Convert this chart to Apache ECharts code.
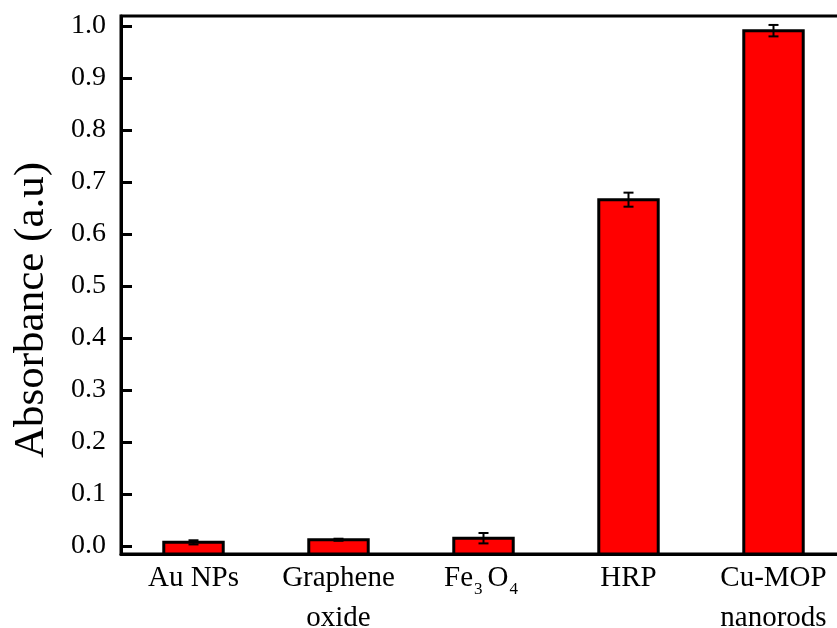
<!DOCTYPE html>
<html>
<head>
<meta charset="utf-8">
<script src="https://cdn.jsdelivr.net/npm/echarts@6/dist/echarts.min.js"></script>
<style>
html,body{margin:0;padding:0;background:#fff;}
#chart{width:837px;height:628px;}
</style>
</head>
<body>
<div id="chart"></div>
<script>
// ---- data ----
const categories = ['Au NPs', 'Graphene oxide', 'Fe3O4', 'HRP', 'Cu-MOP nanorods'];
const absorbance = [0.007, 0.012, 0.015, 0.666, 0.991];
const errorValues = [0.004, 0.002, 0.010, 0.0135, 0.011];
const yTicks = [0.0, 0.1, 0.2, 0.3, 0.4, 0.5, 0.6, 0.7, 0.8, 0.9, 1.0];
const yAxisTitle = 'Absorbance (a.u)';

// ---- layout constants ----
const Y_MIN = -0.0154, Y_MAX = 1.0192;
const FONT = '"Liberation Serif", "Times New Roman", serif';

const catLabels = {
  'Au NPs': '{n|Au NPs}',
  'Graphene oxide': '{n|Graphene}\n{n|oxide}',
  'Fe3O4': '{n|Fe}{s|3}{n|O}{s|4}',
  'HRP': '{n|HRP}',
  'Cu-MOP nanorods': '{n|Cu-MOP}\n{n|nanorods}'
};

const chart = echarts.init(document.getElementById('chart'), null, {renderer: 'canvas'});

function renderBar(params, api) {
  const i = api.value(0), v = api.value(1);
  const base = api.coord([i, Y_MIN]);
  const top = api.coord([i, v]);
  const w = api.size([1, 0])[0] * 0.41;
  return {
    type: 'rect',
    shape: {x: top[0] - w / 2, y: top[1], width: w, height: base[1] - top[1]},
    style: {fill: '#ff0000', stroke: '#000', lineWidth: 3}
  };
}

function renderErr(params, api) {
  const i = api.value(0), v = api.value(1), e = api.value(2);
  const hi = api.coord([i, v + e]);
  const lo = api.coord([i, v - e]);
  const cw = 5;
  const st = {stroke: '#000', lineWidth: 2};
  return {
    type: 'group',
    children: [
      {type: 'line', shape: {x1: hi[0], y1: hi[1], x2: lo[0], y2: lo[1]}, style: st},
      {type: 'line', shape: {x1: hi[0] - cw, y1: hi[1], x2: hi[0] + cw, y2: hi[1]}, style: st},
      {type: 'line', shape: {x1: lo[0] - cw, y1: lo[1], x2: lo[0] + cw, y2: lo[1]}, style: st}
    ]
  };
}

const barData = categories.map((c, i) => [i, absorbance[i]]);
const errData = categories.map((c, i) => [i, absorbance[i], errorValues[i]]);

chart.setOption({
  animation: false,
  backgroundColor: '#fff',
  grid: {
    left: 121, top: 16, width: 725, bottom: 74,
    containLabel: false,
    outerBoundsMode: 'none',
    show: true, borderColor: '#000', borderWidth: 3, backgroundColor: 'transparent'
  },
  xAxis: {
    type: 'category',
    data: categories,
    boundaryGap: true,
    axisLine: {show: true, onZero: false, lineStyle: {color: '#000', width: 3}},
    axisTick: {show: false},
    axisLabel: {
      interval: 0,
      margin: 4,
      formatter: v => catLabels[v],
      rich: {
        n: {fontFamily: FONT, fontSize: 29, color: '#000', lineHeight: 40},
        s: {fontFamily: FONT, fontSize: 17, color: '#000', lineHeight: 14, verticalAlign: 'bottom', padding: [0, 5, 0, 1]}
      }
    },
    splitLine: {show: false}
  },
  yAxis: {
    type: 'value',
    min: Y_MIN, max: Y_MAX,
    axisLine: {show: true, lineStyle: {color: '#000', width: 3}},
    axisTick: {show: true, inside: true, length: 11, lineStyle: {color: '#000', width: 3}, customValues: yTicks},
    axisLabel: {
      customValues: yTicks,
      formatter: v => v.toFixed(1),
      fontFamily: FONT, fontSize: 28, color: '#000', margin: 15
    },
    splitLine: {show: false},
    name: yAxisTitle,
    nameLocation: 'middle',
    nameRotate: 90,
    nameGap: 68,
    nameTextStyle: {fontFamily: FONT, fontSize: 43, color: '#000', padding: [0, 50, 0, 0]}
  },
  series: [
    {type: 'custom', renderItem: renderBar, data: barData, encode: {x: 0, y: 1}, clip: false, z: 2},
    {type: 'custom', renderItem: renderErr, data: errData, encode: {x: 0, y: 1}, clip: false, z: 3}
  ]
});
</script>
</body>
</html>
